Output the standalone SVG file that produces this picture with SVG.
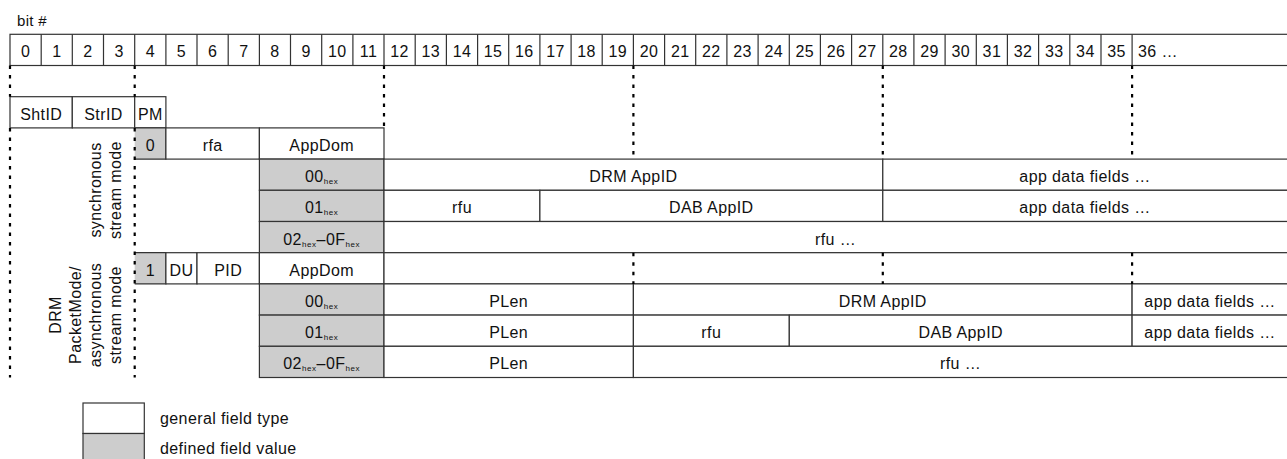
<svg xmlns="http://www.w3.org/2000/svg" width="1287" height="459" viewBox="0 0 1287 459">
  <style>
    text { font-family: "Liberation Sans", Arial, sans-serif; font-size: 16px; fill: #111; letter-spacing: 0.4px; }
    .c { text-anchor: middle; }
    .cell { fill: #fff; stroke: #333; stroke-width: 1.2; }
    .def { fill: #cdcdcd; stroke: #333; stroke-width: 1.2; }
    .fill-def { fill: #cdcdcd; stroke: none; }
    .edge { fill: none; stroke: #333; stroke-width: 1.2; }
    .guide { fill: none; stroke: #000; stroke-width: 2.2; stroke-dasharray: 3.5 6; }
    .sub { font-size: 8px; letter-spacing: 0.6px; }
    .cap { font-size: 15px; letter-spacing: 0.3px; }
  </style>

  <text class="cap" x="17" y="26">bit #</text>

  <!-- bit ruler -->
  <g id="bit-ruler">
    <rect class="cell" x="10" y="34.3" width="1285" height="31.2"/>
    <g class="edge">
      <path d="M41.2 34.3V65.5M72.3 34.3V65.5M103.5 34.3V65.5M134.7 34.3V65.5M165.9 34.3V65.5M197 34.3V65.5M228.2 34.3V65.5M259.4 34.3V65.5M290.5 34.3V65.5M321.7 34.3V65.5M352.9 34.3V65.5M384 34.3V65.5M415.2 34.3V65.5M446.4 34.3V65.5M477.6 34.3V65.5M508.7 34.3V65.5M539.9 34.3V65.5M571.1 34.3V65.5M602.2 34.3V65.5M633.4 34.3V65.5M664.6 34.3V65.5M695.7 34.3V65.5M726.9 34.3V65.5M758.1 34.3V65.5M789.3 34.3V65.5M820.4 34.3V65.5M851.6 34.3V65.5M882.8 34.3V65.5M913.9 34.3V65.5M945.1 34.3V65.5M976.3 34.3V65.5M1007.4 34.3V65.5M1038.6 34.3V65.5M1069.8 34.3V65.5M1101 34.3V65.5M1132.1 34.3V65.5"/>
    </g>
    <g class="c">
      <text x="25.6" y="57.3">0</text>
      <text x="56.8" y="57.3">1</text>
      <text x="87.9" y="57.3">2</text>
      <text x="119.1" y="57.3">3</text>
      <text x="150.3" y="57.3">4</text>
      <text x="181.4" y="57.3">5</text>
      <text x="212.6" y="57.3">6</text>
      <text x="243.8" y="57.3">7</text>
      <text x="274.9" y="57.3">8</text>
      <text x="306.1" y="57.3">9</text>
      <text x="337.3" y="57.3">10</text>
      <text x="368.5" y="57.3">11</text>
      <text x="399.6" y="57.3">12</text>
      <text x="430.8" y="57.3">13</text>
      <text x="462" y="57.3">14</text>
      <text x="493.1" y="57.3">15</text>
      <text x="524.3" y="57.3">16</text>
      <text x="555.5" y="57.3">17</text>
      <text x="586.6" y="57.3">18</text>
      <text x="617.8" y="57.3">19</text>
      <text x="649" y="57.3">20</text>
      <text x="680.2" y="57.3">21</text>
      <text x="711.3" y="57.3">22</text>
      <text x="742.5" y="57.3">23</text>
      <text x="773.7" y="57.3">24</text>
      <text x="804.8" y="57.3">25</text>
      <text x="836" y="57.3">26</text>
      <text x="867.2" y="57.3">27</text>
      <text x="898.3" y="57.3">28</text>
      <text x="929.5" y="57.3">29</text>
      <text x="960.7" y="57.3">30</text>
      <text x="991.9" y="57.3">31</text>
      <text x="1023" y="57.3">32</text>
      <text x="1054.2" y="57.3">33</text>
      <text x="1085.4" y="57.3">34</text>
      <text x="1116.5" y="57.3">35</text>
    </g>
    <text x="1138" y="57.3">36 …</text>
  </g>

  <!-- common header -->
  <g id="shtid"><rect class="cell" x="10" y="96.7" width="62.3" height="31.2"/><text class="c" x="41.2" y="119.7">ShtID</text></g>
  <g id="strid"><rect class="cell" x="72.3" y="96.7" width="62.4" height="31.2"/><text class="c" x="103.5" y="119.7">StrID</text></g>
  <g id="pm"><rect class="cell" x="134.7" y="96.7" width="31.2" height="31.2"/><text class="c" x="150.3" y="119.7">PM</text></g>

  <!-- synchronous stream mode -->
  <g id="sync-pm0">
    <rect class="fill-def" x="134.7" y="127.9" width="31.2" height="31.2"/>
    <path class="edge" d="M134.7 127.9H165.9V159.1H134.7"/>
    <text class="c" x="150.3" y="150.9">0</text>
  </g>
  <g id="sync-rfa"><rect class="cell" x="165.9" y="127.9" width="93.5" height="31.2"/><text class="c" x="212.6" y="150.9">rfa</text></g>
  <g id="sync-appdom"><rect class="cell" x="259.4" y="127.9" width="124.6" height="31.2"/><text class="c" x="321.7" y="150.9">AppDom</text></g>

  <g id="sync-dom00">
    <rect class="def" x="259.4" y="159.1" width="124.6" height="31.2"/>
    <text class="c" x="321.7" y="182.1">00<tspan class="sub" dy="2">hex</tspan></text>
  </g>
  <g id="sync-drm-appid"><rect class="cell" x="384" y="159.1" width="498.8" height="31.2"/><text class="c" x="633.4" y="182.1">DRM AppID</text></g>
  <g id="sync-drm-data"><rect class="cell" x="882.8" y="159.1" width="412" height="31.2"/><text class="c" x="1085" y="182.1">app data fields …</text></g>

  <g id="sync-dom01">
    <rect class="def" x="259.4" y="190.3" width="124.6" height="31.2"/>
    <text class="c" x="321.7" y="213.3">01<tspan class="sub" dy="2">hex</tspan></text>
  </g>
  <g id="sync-dab-rfu"><rect class="cell" x="384" y="190.3" width="155.9" height="31.2"/><text class="c" x="462" y="213.3">rfu</text></g>
  <g id="sync-dab-appid"><rect class="cell" x="539.9" y="190.3" width="342.9" height="31.2"/><text class="c" x="711.3" y="213.3">DAB AppID</text></g>
  <g id="sync-dab-data"><rect class="cell" x="882.8" y="190.3" width="412" height="31.2"/><text class="c" x="1085" y="213.3">app data fields …</text></g>

  <g id="sync-dom02">
    <rect class="def" x="259.4" y="221.5" width="124.6" height="31.2"/>
    <text class="c" x="321.7" y="244.5">02<tspan class="sub" dy="2">hex</tspan><tspan dy="-2">–0F</tspan><tspan class="sub" dy="2">hex</tspan></text>
  </g>
  <g id="sync-rfu"><rect class="cell" x="384" y="221.5" width="910" height="31.2"/><text class="c" x="835.5" y="244.5">rfu …</text></g>

  <!-- DRM packet mode / asynchronous stream mode -->
  <g id="async-pm1">
    <rect class="fill-def" x="134.7" y="252.7" width="31.2" height="31.2"/>
    <path class="edge" d="M134.7 252.7H165.9V283.9H134.7"/>
    <text class="c" x="150.3" y="275.7">1</text>
  </g>
  <g id="async-du"><rect class="cell" x="165.9" y="252.7" width="31.1" height="31.2"/><text class="c" x="181.5" y="275.7">DU</text></g>
  <g id="async-pid"><rect class="cell" x="197" y="252.7" width="62.4" height="31.2"/><text class="c" x="228.2" y="275.7">PID</text></g>
  <g id="async-appdom"><rect class="cell" x="259.4" y="252.7" width="124.6" height="31.2"/><text class="c" x="321.7" y="275.7">AppDom</text></g>
  <g id="async-open"><rect class="cell" x="384" y="252.7" width="910" height="31.2"/></g>

  <g id="async-dom00">
    <rect class="def" x="259.4" y="283.9" width="124.6" height="31.2"/>
    <text class="c" x="321.7" y="306.9">00<tspan class="sub" dy="2">hex</tspan></text>
  </g>
  <g id="async-drm-plen"><rect class="cell" x="384" y="283.9" width="249.4" height="31.2"/><text class="c" x="508.7" y="306.9">PLen</text></g>
  <g id="async-drm-appid"><rect class="cell" x="633.4" y="283.9" width="498.7" height="31.2"/><text class="c" x="882.8" y="306.9">DRM AppID</text></g>
  <g id="async-drm-data"><rect class="cell" x="1132.1" y="283.9" width="162" height="31.2"/><text class="c" x="1210" y="306.9">app data fields …</text></g>

  <g id="async-dom01">
    <rect class="def" x="259.4" y="315.1" width="124.6" height="31.2"/>
    <text class="c" x="321.7" y="338.1">01<tspan class="sub" dy="2">hex</tspan></text>
  </g>
  <g id="async-dab-plen"><rect class="cell" x="384" y="315.1" width="249.4" height="31.2"/><text class="c" x="508.7" y="338.1">PLen</text></g>
  <g id="async-dab-rfu"><rect class="cell" x="633.4" y="315.1" width="155.9" height="31.2"/><text class="c" x="711.3" y="338.1">rfu</text></g>
  <g id="async-dab-appid"><rect class="cell" x="789.3" y="315.1" width="342.8" height="31.2"/><text class="c" x="960.7" y="338.1">DAB AppID</text></g>
  <g id="async-dab-data"><rect class="cell" x="1132.1" y="315.1" width="162" height="31.2"/><text class="c" x="1210" y="338.1">app data fields …</text></g>

  <g id="async-dom02">
    <rect class="def" x="259.4" y="346.3" width="124.6" height="31.2"/>
    <text class="c" x="321.7" y="369.3">02<tspan class="sub" dy="2">hex</tspan><tspan dy="-2">–0F</tspan><tspan class="sub" dy="2">hex</tspan></text>
  </g>
  <g id="async-rfu-plen"><rect class="cell" x="384" y="346.3" width="249.4" height="31.2"/><text class="c" x="508.7" y="369.3">PLen</text></g>
  <g id="async-rfu"><rect class="cell" x="633.4" y="346.3" width="661" height="31.2"/><text class="c" x="960.5" y="369.3">rfu …</text></g>

  <!-- mode labels -->
  <g id="label-sync" class="c">
    <text transform="translate(101,190) rotate(-90)">synchronous</text>
    <text transform="translate(121,190) rotate(-90)">stream mode</text>
  </g>
  <g id="label-async" class="c">
    <text transform="translate(61,315) rotate(-90)">DRM</text>
    <text transform="translate(81,315) rotate(-90)">PacketMode/</text>
    <text transform="translate(101,315) rotate(-90)">asynchronous</text>
    <text transform="translate(121,315) rotate(-90)">stream mode</text>
  </g>

  <!-- dashed bit-boundary guides -->
  <g id="guides" class="guide">
    <path d="M10 65.5V96.7M10 127.9V377.5"/>
    <path d="M134.7 65.5V96.7M134.7 127.9V377.5"/>
    <path d="M384 65.5V127.9"/>
    <path d="M633.4 65.5V159.1M633.4 252.7V283.9"/>
    <path d="M882.8 65.5V159.1M882.8 252.7V283.9"/>
    <path d="M1132.1 65.5V159.1M1132.1 252.7V283.9"/>
  </g>

  <!-- legend -->
  <g id="legend-general"><rect class="cell" x="83" y="403" width="61.3" height="30.5"/><text x="160" y="424">general field type</text></g>
  <g id="legend-defined"><rect class="def" x="83" y="433.5" width="61.3" height="32"/><text x="160" y="454">defined field value</text></g>
</svg>
